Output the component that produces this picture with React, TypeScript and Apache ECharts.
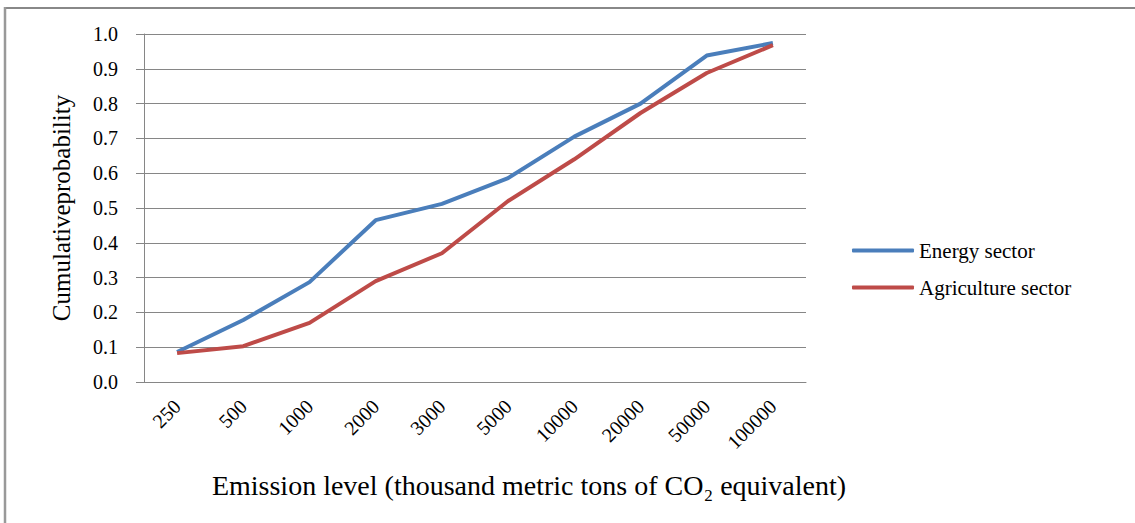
import React, { useEffect, useRef } from "react";
import * as echarts from "echarts";

const categories = ["250", "500", "1000", "2000", "3000", "5000", "10000", "20000", "50000", "100000"];
const energySector = [0.086, 0.178, 0.287, 0.465, 0.512, 0.586, 0.705, 0.8, 0.938, 0.974];
const agricultureSector = [0.083, 0.103, 0.17, 0.29, 0.37, 0.52, 0.64, 0.773, 0.888, 0.968];
const seriesNames = ["Energy sector", "Agriculture sector"];
const yTickLabels = ["0.0", "0.1", "0.2", "0.3", "0.4", "0.5", "0.6", "0.7", "0.8", "0.9", "1.0"];
const xTitle = "Emission level (thousand metric tons of CO\u2082 equivalent)";
const yTitle = "Cumulativeprobability";

const FONT = "'Liberation Serif', 'Times New Roman', serif";

export default function App() {
  const ref = useRef<HTMLDivElement>(null);
  useEffect(() => {
    if (!ref.current) return;
    const chart = echarts.init(ref.current, null, { renderer: "svg" });
    chart.setOption({
      animation: false,
      backgroundColor: "#ffffff",
      grid: { left: 144, right: 329, top: 34, bottom: 141 },
      legend: {
        show: true,
        orient: "vertical",
        left: 847,
        top: 235,
        itemWidth: 62,
        itemHeight: 4,
        itemGap: 16,
        icon: "roundRect",
        data: seriesNames,
        textStyle: { fontFamily: FONT, fontSize: 21, color: "#000000" },
      },
      xAxis: {
        type: "category",
        data: categories,
        boundaryGap: true,
        axisLine: { lineStyle: { color: "#868686", width: 1 } },
        axisTick: { show: false },
        axisLabel: {
          show: true,
          rotate: 45,
          margin: 21,
          interval: 0,
          fontSize: 20,
          color: "#000000",
          fontFamily: FONT,
        },
        name: xTitle,
        nameLocation: "middle",
        nameGap: 89,
        nameTextStyle: { fontFamily: FONT, fontSize: 28, color: "#000", padding: [0, 0, 0, 108] },
      },
      yAxis: {
        type: "value",
        min: 0,
        max: 1,
        interval: 0.1,
        axisLine: { show: true, lineStyle: { color: "#868686", width: 1 } },
        axisTick: { show: true, length: 8, lineStyle: { color: "#868686" } },
        splitLine: { show: true, lineStyle: { color: "#868686", width: 1 } },
        axisLabel: {
          show: true,
          margin: 26,
          fontSize: 20,
          color: "#000000",
          fontFamily: FONT,
          formatter: (v: number) => yTickLabels[Math.round(v * 10)] ?? String(v),
        },
        name: yTitle,
        nameLocation: "middle",
        nameGap: 70,
        nameTextStyle: { fontFamily: FONT, fontSize: 25, color: "#000" },
      },
      series: [
        {
          name: seriesNames[0],
          type: "line",
          data: energySector,
          showSymbol: false,
          symbol: "none",
          lineStyle: { color: "#4A7EBB", width: 4 },
          itemStyle: { color: "#4A7EBB" },
        },
        {
          name: seriesNames[1],
          type: "line",
          data: agricultureSector,
          showSymbol: false,
          symbol: "none",
          lineStyle: { color: "#BE4B48", width: 4 },
          itemStyle: { color: "#BE4B48" },
        },
      ],
      graphic: [
        { type: "line", shape: { x1: 4, y1: 8, x2: 1135, y2: 8 }, style: { stroke: "#888", lineWidth: 2 } },
        { type: "line", shape: { x1: 5, y1: 7, x2: 5, y2: 523 }, style: { stroke: "#999", lineWidth: 2.5 } },
      ],
    });
    return () => chart.dispose();
  }, []);
  return <div ref={ref} style={{ position: "fixed", left: 0, top: 0, width: 1135, height: 523 }} />;
}
